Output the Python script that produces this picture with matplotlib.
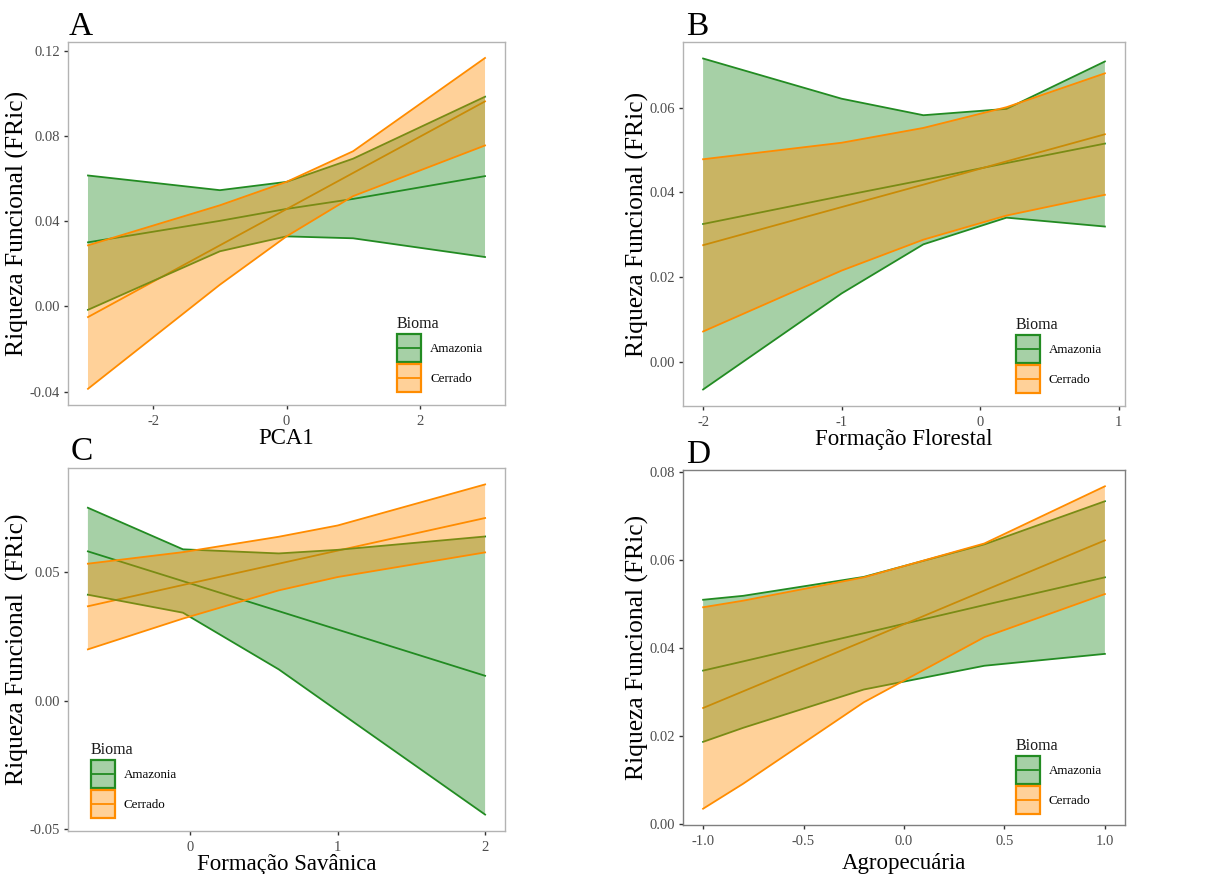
#
# Four panels of predicted functional richness (FRic) by biome, with confidence ribbons.
#

import matplotlib
matplotlib.use('Agg')
import matplotlib.pyplot as plt
from matplotlib.patches import Rectangle, Patch
from matplotlib.lines import Line2D

plt.rcParams['font.family'] = ['Liberation Serif', 'DejaVu Serif']

biomes = ['Amazonia', 'Cerrado']

# Panel A - PCA1
a_x = [-2.98, -1.0, 0.0, 1.0, 2.98]
a_amz_fit = [0.0301, 0.0402, 0.0458, 0.0505, 0.0612]
a_amz_low = [-0.0016, 0.0259, 0.0329, 0.0320, 0.0232]
a_amz_high = [0.0615, 0.0546, 0.0585, 0.0694, 0.0985]
a_cer_fit = [-0.0050, 0.0287, 0.0457, 0.0627, 0.0963]
a_cer_low = [-0.0387, 0.0102, 0.0329, 0.0518, 0.0756]
a_cer_high = [0.0287, 0.0475, 0.0585, 0.0729, 0.1167]

# Panel B - Formacao Florestal
b_x = [-2.0, -1.0, -0.41, 0.19, 0.9]
b_amz_fit = [0.0325, 0.0391, 0.0429, 0.0469, 0.0515]
b_amz_low = [-0.0066, 0.0161, 0.0277, 0.0340, 0.0319]
b_amz_high = [0.0716, 0.0621, 0.0582, 0.0597, 0.0709]
b_cer_fit = [0.0275, 0.0365, 0.0418, 0.0473, 0.0537]
b_cer_low = [0.0071, 0.0215, 0.0288, 0.0345, 0.0394]
b_cer_high = [0.0478, 0.0517, 0.0552, 0.0601, 0.0681]

# Panel C - Formacao Savanica
c_x = [-0.695, -0.05, 0.6, 1.0, 2.0]
c_amz_fit = [0.0582, 0.0466, 0.0349, 0.0277, 0.0097]
c_amz_low = [0.0413, 0.0343, 0.0122, -0.0040, -0.0444]
c_amz_high = [0.0752, 0.0590, 0.0574, 0.0588, 0.0640]
c_cer_fit = [0.0368, 0.0451, 0.0534, 0.0585, 0.0712]
c_cer_low = [0.0200, 0.0320, 0.0430, 0.0482, 0.0578]
c_cer_high = [0.0534, 0.0579, 0.0639, 0.0683, 0.0843]

# Panel D - Agropecuaria
d_x = [-1.0, -0.8, -0.2, 0.4, 1.0]
d_amz_fit = [0.0349, 0.0370, 0.0434, 0.0498, 0.0561]
d_amz_low = [0.0187, 0.0219, 0.0306, 0.0360, 0.0387]
d_amz_high = [0.0510, 0.0519, 0.0562, 0.0636, 0.0734]
d_cer_fit = [0.0264, 0.0302, 0.0416, 0.0531, 0.0645]
d_cer_low = [0.0035, 0.0092, 0.0277, 0.0425, 0.0523]
d_cer_high = [0.0493, 0.0508, 0.0561, 0.0638, 0.0768]

green = '#228B22'
orange = '#FF8C00'

W, H = 1206, 874
fig = plt.figure(figsize=(W / 100, H / 100), dpi=100)


class KeyHandler:
    # ggplot-like legend key: filled box with coloured border and a centred line
    def __init__(self, col):
        self.col = col

    def legend_artist(self, legend, orig_handle, fontsize, handlebox):
        x0, y0 = -handlebox.xdescent, -handlebox.ydescent
        w, h = handlebox.width, handlebox.height
        tr = handlebox.get_transform()
        rect = Rectangle((x0, y0), w, h, facecolor=self.col, alpha=0.4, lw=0, transform=tr)
        edge = Rectangle((x0, y0), w, h, facecolor='none', edgecolor=self.col, lw=1.6, transform=tr)
        line = Line2D([x0 + 1, x0 + w - 1], [y0 + h / 2] * 2, color=self.col, lw=1.3, transform=tr)
        handlebox.add_artist(rect)
        handlebox.add_artist(edge)
        handlebox.add_artist(line)
        return rect


def draw_panel(ax, x, amz, cer, xticks, xticklabels, yticks, yticklabels,
               xlabel, ylabel, legend_anchor, border, xpad=0):
    # mean lines first, ribbons over them (like the original ggplot layering)
    ax.plot(x, amz[0], color=green, lw=1.3, zorder=1)
    ax.plot(x, cer[0], color=orange, lw=1.3, zorder=1)
    z = 2
    for (fit, low, high), col in [(amz, green), (cer, orange)]:
        ax.fill_between(x, low, high, facecolor=col, alpha=0.4, lw=0, zorder=z)
        ax.plot(x, low, color=col, lw=1.3, zorder=z + 0.1)
        ax.plot(x, high, color=col, lw=1.3, zorder=z + 0.1)
        z += 1

    ax.set_xticks(xticks)
    ax.set_xticklabels(xticklabels)
    ax.set_yticks(yticks)
    ax.set_yticklabels(yticklabels)
    ax.tick_params(length=3, width=1, color='#333333', labelcolor='#4D4D4D',
                   labelsize=10.5, pad=3)
    ax.tick_params(axis='x', pad=4.5)
    for s in ax.spines.values():
        s.set_color(border)
        s.set_linewidth(1)
    ax.set_xlabel(xlabel, fontsize=16.5, labelpad=xpad)
    ax.set_ylabel(ylabel, fontsize=18.4, labelpad=0)

    handles = [Patch(color=green), Patch(color=orange)]
    leg = ax.legend(handles, biomes, title='Bioma', loc='lower left',
                    bbox_to_anchor=legend_anchor, frameon=False, fontsize=9.4,
                    title_fontsize=11.5, handlelength=1.84, handleheight=2.92,
                    labelspacing=0.15, handletextpad=0.7, borderpad=0,
                    borderaxespad=0, alignment='left',
                    handler_map={handles[0]: KeyHandler(green), handles[1]: KeyHandler(orange)})
    leg.get_title().set_color('#1a1a1a')


def px_axes(left, top, right, bottom):
    return fig.add_axes([left / W, 1 - bottom / H, (right - left) / W, (bottom - top) / H])


axA = px_axes(68, 42, 505, 405)
draw_panel(axA, a_x, (a_amz_fit, a_amz_low, a_amz_high), (a_cer_fit, a_cer_low, a_cer_high),
           [-2, 0, 2], ['-2', '0', '2'],
           [-0.04, 0.0, 0.04, 0.08, 0.12], ['-0.04', '0.00', '0.04', '0.08', '0.12'],
           'PCA1', 'Riqueza Funcional (FRic)', (0.753, 0.035), '#B3B3B3')

axB = px_axes(683, 42, 1125, 406)
draw_panel(axB, b_x, (b_amz_fit, b_amz_low, b_amz_high), (b_cer_fit, b_cer_low, b_cer_high),
           [-2, -1, 0, 1], ['-2', '-1', '0', '1'],
           [0.0, 0.02, 0.04, 0.06], ['0.00', '0.02', '0.04', '0.06'],
           'Formação Florestal', 'Riqueza Funcional (FRic)', (0.753, 0.036), '#B3B3B3')

axC = px_axes(68, 468, 505, 831)
draw_panel(axC, c_x, (c_amz_fit, c_amz_low, c_amz_high), (c_cer_fit, c_cer_low, c_cer_high),
           [0, 1, 2], ['0', '1', '2'],
           [-0.05, 0.0, 0.05], ['-0.05', '0.00', '0.05'],
           'Formação Savânica', 'Riqueza Funcional  (FRic)', (0.052, 0.036), '#B3B3B3')

axD = px_axes(683, 470, 1125, 825)
draw_panel(axD, d_x, (d_amz_fit, d_amz_low, d_amz_high), (d_cer_fit, d_cer_low, d_cer_high),
           [-1.0, -0.5, 0.0, 0.5, 1.0], ['-1.0', '-0.5', '0.0', '0.5', '1.0'],
           [0.0, 0.02, 0.04, 0.06, 0.08], ['0.00', '0.02', '0.04', '0.06', '0.08'],
           'Agropecuária', 'Riqueza Funcional (FRic)', (0.753, 0.031), '#7F7F7F', xpad=3)

axA.set_xlim(-3.28, 3.28)
axA.set_ylim(-0.0463, 0.1242)
axB.set_xlim(-2.145, 1.045)
axB.set_ylim(-0.0105, 0.0755)
axC.set_xlim(-0.83, 2.135)
axC.set_ylim(-0.0508, 0.0907)
axD.set_xlim(-1.1, 1.1)
axD.set_ylim(-0.0002, 0.0805)

for lab, x, y in [('A', 69, 35), ('B', 686, 35), ('C', 71, 460), ('D', 686, 463)]:
    fig.text(x / W, 1 - y / H, lab, fontsize=24, va='baseline', ha='left')

fig.savefig('out.png', dpi=100, facecolor='white')
